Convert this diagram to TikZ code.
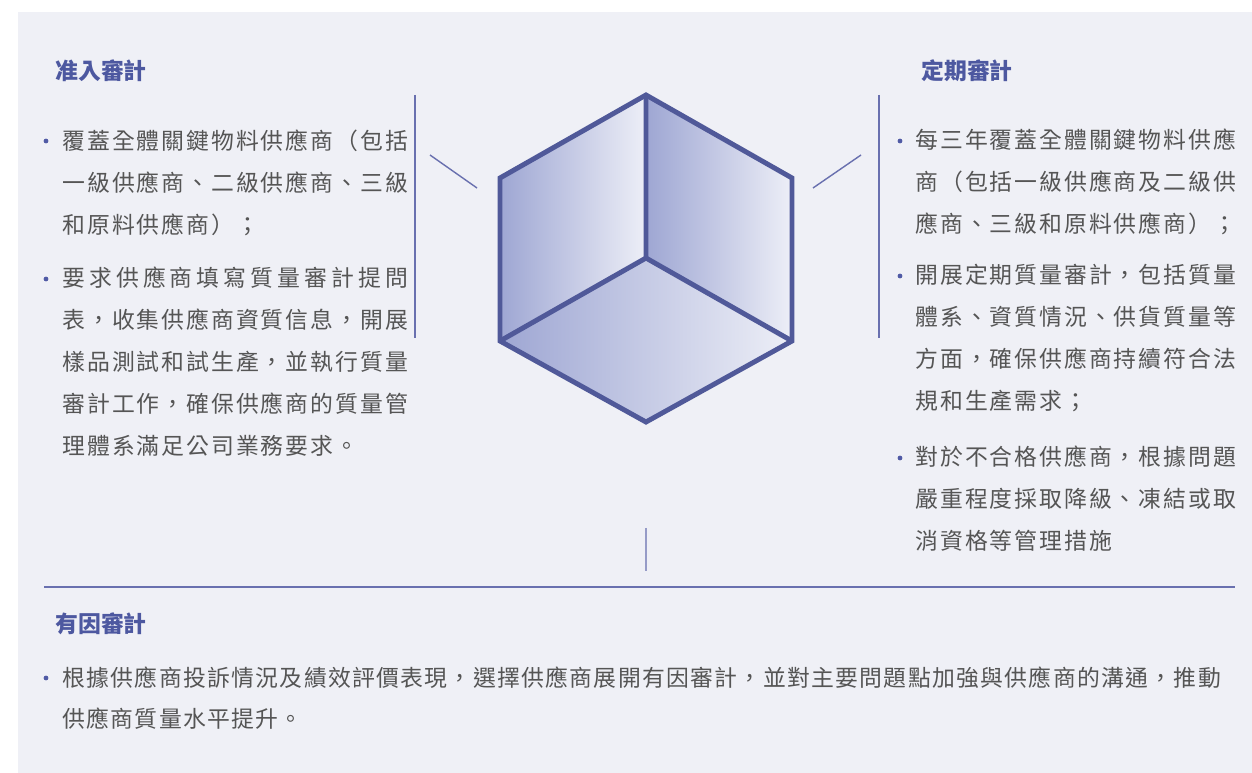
\documentclass[tikz,border=0pt]{standalone}
\usepackage{fontspec}
\newfontfamily\cjk[LetterSpace=8.7]{Noto Sans CJK TC}
\newfontfamily\cjkloose[LetterSpace=17.8]{Noto Sans CJK TC}
\newfontfamily\cjknarrow[LetterSpace=5.8]{Noto Sans CJK TC}
\newfontfamily\cjkhead{Noto Sans CJK TC}
% lines of a text block, hung from the first baseline
\newcommand\textlines[1]{\begin{tabular}[t]{@{}l@{}}#1\end{tabular}}

\definecolor{bgc}{RGB}{239,240,246}
\definecolor{headc}{RGB}{77,88,160}
\definecolor{bodyc}{RGB}{85,85,85}
\definecolor{dotc}{RGB}{80,90,165}
\definecolor{linec}{RGB}{105,112,175}
\definecolor{cubec}{RGB}{80,89,153}
\definecolor{faced}{RGB}{158,166,211}
\definecolor{facel}{RGB}{237,239,247}

\tikzset{
  head/.style={anchor=base west, inner sep=0, text=headc,
    font=\cjkhead\bfseries\fontsize{13}{16}\selectfont},
  body/.style={anchor=base west, inner sep=0, text=bodyc,
    font=\cjk\fontsize{13}{23.8}\selectfont},
  thin/.style={draw=linec, line width=0.8pt},
  face/.style={left color=faced, right color=facel, draw=none},
  cube/.style={draw=cubec, line width=2.8pt, line join=miter},
}

\begin{document}
\begin{tikzpicture}[x=0.02cm,y=-0.02cm]
 \useasboundingbox (0,0) rectangle (1252,773);
 \fill[bgc] (18,12) rectangle (1252,773);

 % headings
 \node[head] (entryhead) at (55,80) {准入審計};
 \node[head] (periodhead) at (921,80) {定期審計};
 \node[head] (causehead) at (55,633) {有因審計};

 % left column
 \node[body] (entryA) at (62,150) {\textlines{覆蓋全體關鍵物料供應商（包括\\一級供應商、二級供應商、三級\\和原料供應商）；}};
 \node[body] (entryB) at (62,287) {\textlines{{\cjkloose 要求供應商填寫質量審計提問}\\表，收集供應商資質信息，開展\\樣品測試和試生產，並執行質量\\審計工作，確保供應商的質量管\\理體系滿足公司業務要求。}};

 % right column
 \node[body] (periodA) at (915,149) {\textlines{每三年覆蓋全體關鍵物料供應\\商（包括一級供應商及二級供\\應商、三級和原料供應商）；}};
 \node[body] (periodB) at (915,284) {\textlines{開展定期質量審計，包括質量\\體系、資質情況、供貨質量等\\方面，確保供應商持續符合法\\規和生產需求；}};
 \node[body] (periodC) at (915,466) {\textlines{對於不合格供應商，根據問題\\嚴重程度採取降級、凍結或取\\消資格等管理措施}};

 % bottom row
 \node[body, font=\cjknarrow\fontsize{13}{23.8}\selectfont] (causeA) at (62,686) {\textlines{根據供應商投訴情況及績效評價表現，選擇供應商展開有因審計，並對主要問題點加強與供應商的溝通，推動\\供應商質量水平提升。}};

 % bullets
 \fill[dotc] (46,141) circle (2.4);
 \fill[dotc] (46,279) circle (2.4);
 \fill[dotc] (900,141) circle (2.4);
 \fill[dotc] (900,276) circle (2.4);
 \fill[dotc] (900,458) circle (2.4);
 \fill[dotc] (46,678) circle (2.4);

 % guide lines
 \draw[thin] (415,95) -- (415,338);
 \draw[thin] (879,95) -- (879,338);
 \draw[thin] (430,155) -- (477,188);
 \draw[thin] (861,155) -- (813,188);
 \draw[draw=linec!70, line width=1.1pt] (646,528) -- (646,571);
 \draw[thin] (44,587) -- (1235,587);

 % cube
 \coordinate (top) at (646,95);
 \coordinate (ul) at (500,178);
 \coordinate (ll) at (500,341);
 \coordinate (bot) at (646,422);
 \coordinate (lr) at (792,341);
 \coordinate (ur) at (792,178);
 \coordinate (mid) at (646,258);
 \shade[face] (top) -- (mid) -- (ll) -- (ul) -- cycle;
 \shade[face] (top) -- (ur) -- (lr) -- (mid) -- cycle;
 \shade[face] (mid) -- (lr) -- (bot) -- (ll) -- cycle;
 \draw[cube] (top) -- (ur) -- (lr) -- (bot) -- (ll) -- (ul) -- cycle;
 \draw[cube] (top) -- (mid) -- (ll);
 \draw[cube] (mid) -- (lr);
\end{tikzpicture}
\end{document}
